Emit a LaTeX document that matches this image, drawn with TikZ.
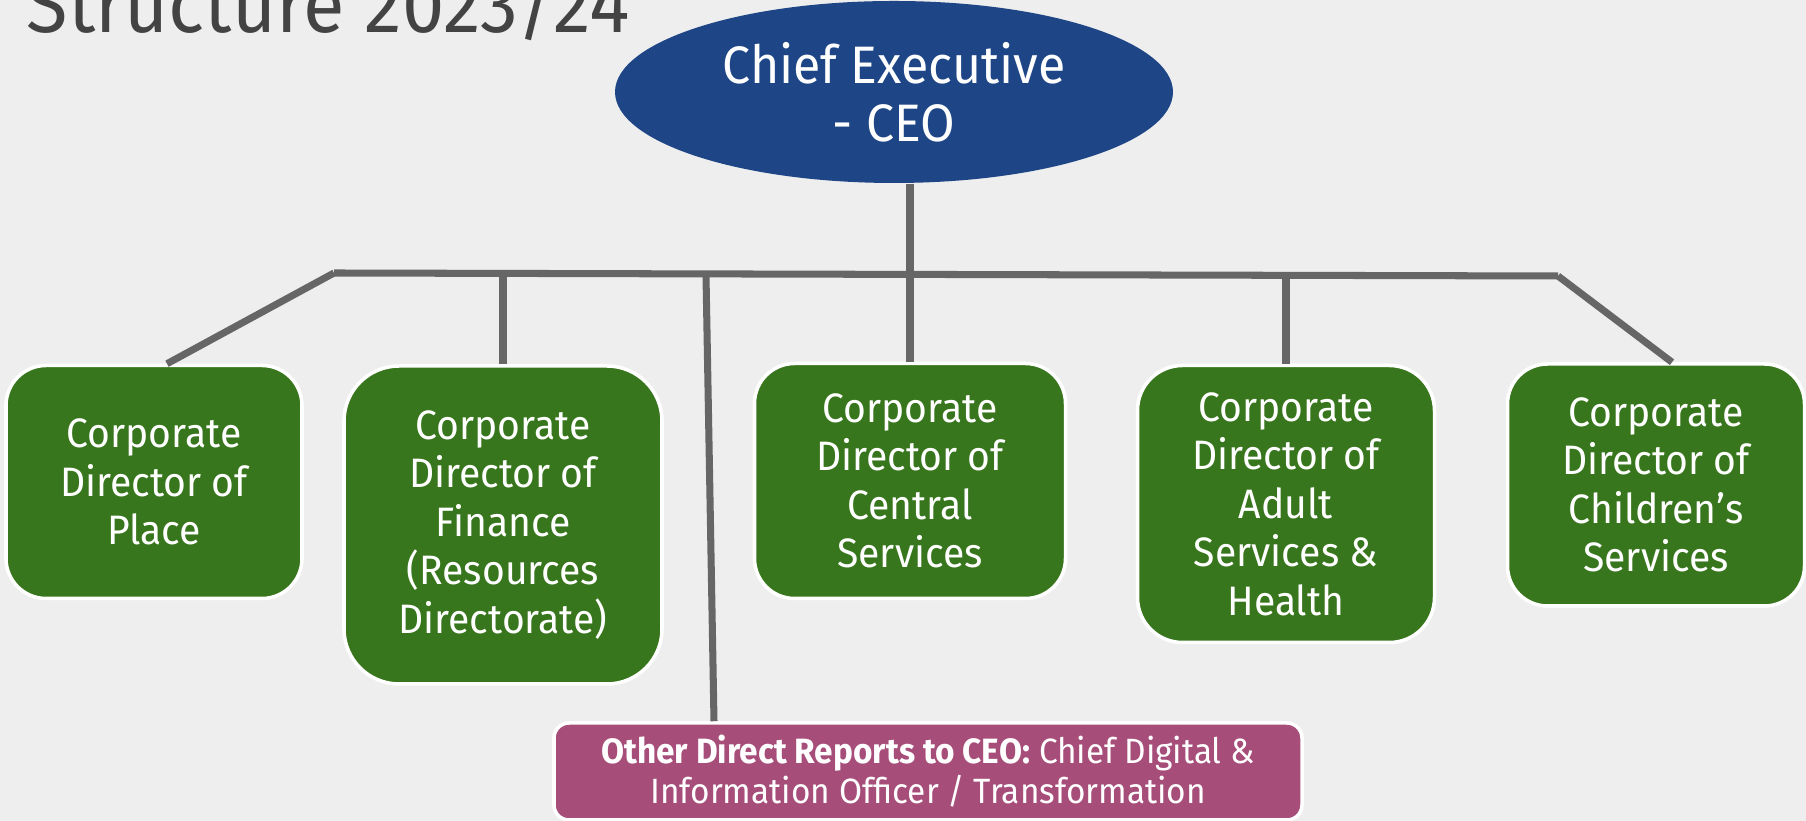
\documentclass[tikz,border=0pt]{standalone}
\usepackage{fontspec}
\setmainfont{Fira Sans}[FakeStretch=0.95]
\usetikzlibrary{shapes.geometric}
\definecolor{bggray}{HTML}{EEEEEE}
\definecolor{titlegray}{HTML}{434343}
\definecolor{ceoblue}{HTML}{1E4687}
\definecolor{dirgreen}{HTML}{38761D}
\definecolor{othermagenta}{HTML}{A64D79}
\definecolor{linegray}{HTML}{666666}
\begin{document}
\begin{tikzpicture}[
    dirbox/.style={draw=white, line width=1pt, fill=dirgreen, text=white,
      rounded corners=0.4cm, align=center, font=\fontsize{11.7}{13.8}\selectfont},
    link/.style={draw=linegray, line width=2pt}]
  \fill[bggray] (0,0) rectangle (18.06,-8.21);
  \useasboundingbox (0,0) rectangle (18.06,-8.21);
  \draw
    (0.26,-0.33) node[anchor=base west, inner sep=0pt, text=titlegray, font=\fontsize{22.7}{27}\selectfont] (title){Structure 2023/24}
    (8.94,-0.92) node[ellipse, fill=ceoblue, text=white, inner sep=0pt, minimum width=5.58cm, minimum height=1.82cm,
      align=center, font=\fontsize{15}{16.5}\selectfont] (ceo){Chief Executive\\- CEO}
    (1.54,-4.82) node[dirbox, minimum width=2.96cm, minimum height=2.33cm] (place){Corporate\\Director of\\Place}
    (5.03,-5.25) node[dirbox, minimum width=3.18cm, minimum height=3.18cm, rounded corners=0.55cm] (finance){Corporate\\Director of\\Finance\\(Resources\\Directorate)}
    (9.10,-4.81) node[dirbox, minimum width=3.11cm, minimum height=2.35cm] (central){Corporate\\Director of\\Central\\Services}
    (12.86,-5.04) node[dirbox, minimum width=2.97cm, minimum height=2.77cm, rounded corners=0.45cm] (adult){Corporate\\Director of\\Adult\\Services \&\\Health}
    (16.56,-4.85) node[dirbox, minimum width=2.97cm, minimum height=2.42cm] (children){Corporate\\Director of\\Children’s\\Services}
    (9.28,-7.715) node[dirbox, fill=othermagenta, minimum width=7.48cm, minimum height=0.97cm, rounded corners=0.15cm,
      font=\fontsize{10}{11.4}\selectfont] (other){\textbf{Other Direct Reports to CEO:} Chief Digital \&\\Information Officer / Transformation};
  \coordinate (barL) at (3.34,-2.73);
  \coordinate (barR) at (15.58,-2.76);
  \coordinate (otherjoin) at (7.06,-2.75);
  \begin{scope}[link]
    \draw (barL) to (barR);
    \draw (central.north |- ceo.south) to (central.north);
    \draw (barL) to ([xshift=0.13cm]place.north);
    \draw (finance.north |- barL) to (finance.north);
    \draw (otherjoin) to ([xshift=-2.14cm]other.north);
    \draw (adult.north |- barR) to (adult.north);
    \draw (barR) to ([xshift=0.16cm]children.north);
  \end{scope}
\end{tikzpicture}
\end{document}
